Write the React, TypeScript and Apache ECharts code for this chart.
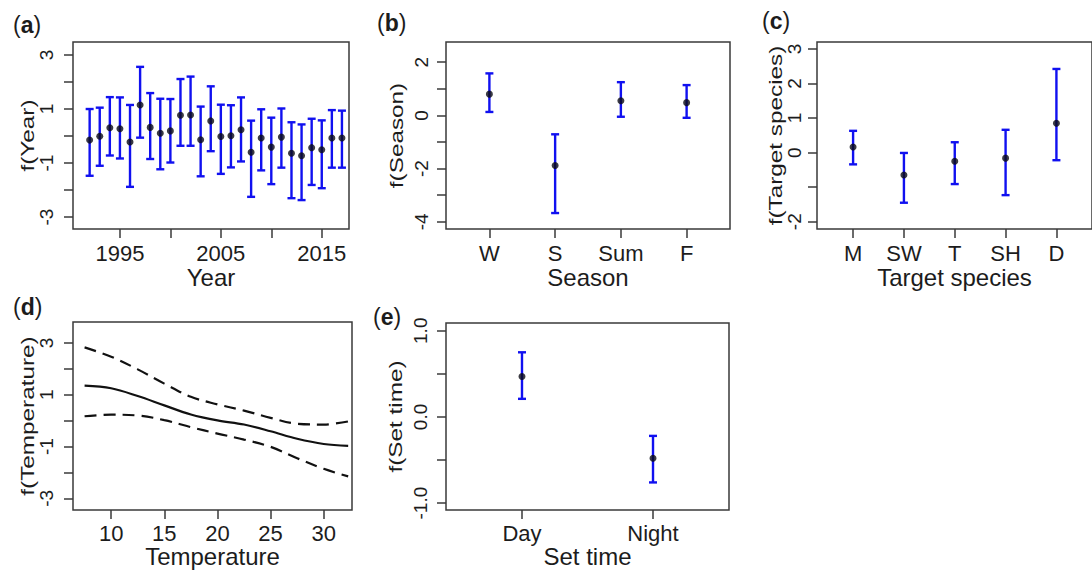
import React, { useEffect, useRef } from "react";
import * as echarts from "echarts";

// ---------- data ----------
const years = [1992, 1993, 1994, 1995, 1996, 1997, 1998, 1999, 2000, 2001, 2002, 2003, 2004, 2005, 2006, 2007, 2008, 2009, 2010, 2011, 2012, 2013, 2014, 2015, 2016, 2017];
const yearFit = [-0.15, -0.01, 0.31, 0.27, -0.22, 1.15, 0.32, 0.1, 0.19, 0.77, 0.78, -0.14, 0.56, -0.02, 0.01, 0.23, -0.6, -0.07, -0.41, -0.04, -0.64, -0.73, -0.43, -0.51, -0.07, -0.07];
const yearUpper = [1.0, 1.05, 1.44, 1.43, 1.15, 2.56, 1.59, 1.38, 1.37, 2.11, 2.2, 1.09, 1.84, 1.16, 1.14, 1.43, 0.57, 0.99, 0.68, 1.02, 0.51, 0.43, 0.64, 0.58, 0.96, 0.94];
const yearLower = [-1.47, -1.1, -0.72, -0.83, -1.88, -0.06, -0.85, -1.23, -0.98, -0.36, -0.36, -1.49, -0.56, -1.4, -1.16, -0.94, -2.25, -1.27, -1.78, -1.17, -2.3, -2.37, -1.81, -1.93, -1.17, -1.17];
const yearTicks = [1995, 2000, 2005, 2010, 2015];
const yearLabels = [1995, 2005, 2015];
const yearYTicks = [-3, -2, -1, 0, 1, 2, 3];
const yearYLabels = [-3, -1, 1, 3];

const seasons = ["W", "S", "Sum", "F"];
const seasonFit = [0.8, -1.88, 0.55, 0.48];
const seasonUpper = [1.58, -0.71, 1.25, 1.14];
const seasonLower = [0.13, -3.67, -0.05, -0.09];
const seasonYTicks = [-4, -3, -2, -1, 0, 1, 2];
const seasonYLabels = [-4, -2, 0, 2];

const species = ["M", "SW", "T", "SH", "D"];
const speciesFit = [0.16, -0.65, -0.25, -0.16, 0.85];
const speciesUpper = [0.63, -0.01, 0.3, 0.66, 2.42];
const speciesLower = [-0.34, -1.45, -0.91, -1.23, -0.22];
const speciesYTicks = [-2, -1, 0, 1, 2, 3];
const speciesYLabels = [-2, 0, 1, 2, 3];

const temperature = [7.5, 10, 12.5, 15, 17.5, 20, 22.5, 25, 27.5, 30, 32.3];
const tempFit = [1.35, 1.25, 0.95, 0.59, 0.24, 0.01, -0.15, -0.41, -0.7, -0.9, -0.97];
const tempUpper = [2.83, 2.47, 1.98, 1.43, 0.92, 0.63, 0.39, 0.11, -0.12, -0.15, -0.03];
const tempLower = [0.17, 0.23, 0.2, 0.02, -0.25, -0.5, -0.73, -1.01, -1.45, -1.86, -2.15];
const tempTicks = [10, 15, 20, 25, 30];
const tempYTicks = [-3, -2, -1, 0, 1, 2, 3];
const tempYLabels = [-3, -1, 1, 3];

const setTimes = ["Day", "Night"];
const setFit = [0.47, -0.48];
const setUpper = [0.75, -0.22];
const setLower = [0.21, -0.76];
const setYTicks = [-1, -0.5, 0, 0.5, 1];
const setYLabels = [-1, 0, 1];

// ---------- styles ----------
const FONT = "'Liberation Sans', Arial, Helvetica, sans-serif";
const TEXT = "#1c1c1c";
const FRAME = "#3a3a3a";
const BLUE = "#1010f0";

const grids = [
  { left: 73, top: 42, width: 276, height: 187 },
  { left: 446, top: 42, width: 284, height: 187 },
  { left: 817, top: 42, width: 284, height: 187 },
  { left: 73, top: 322, width: 279, height: 188 },
  { left: 446, top: 323, width: 283, height: 187 },
];

function xAxis(gi: number, min: number, max: number, ticks: number[], labels: number[], fmt: (v: number) => string, name: string, margin: number, nameGap: number) {
  return {
    type: "value",
    gridIndex: gi,
    position: "bottom",
    min,
    max,
    name,
    nameLocation: "middle",
    nameGap,
    nameTextStyle: { fontFamily: FONT, fontSize: 24, color: TEXT, lineHeight: 24 },
    axisLine: { show: false, onZero: false },
    splitLine: { show: false },
    axisTick: { show: true, inside: false, length: 9, lineStyle: { color: FRAME, width: 1.5 }, customValues: ticks },
    axisLabel: { customValues: labels, formatter: fmt, margin, fontFamily: FONT, fontSize: 22, lineHeight: 22, color: TEXT },
  };
}

function yAxis(gi: number, min: number, max: number, ticks: number[], labels: number[], fmt: (v: number) => string, margin: number) {
  return {
    type: "value",
    gridIndex: gi,
    position: "left",
    min,
    max,
    axisLine: { show: false, onZero: false },
    splitLine: { show: false },
    axisTick: { show: true, inside: false, length: 9, lineStyle: { color: FRAME, width: 1.5 }, customValues: ticks },
    axisLabel: { customValues: labels, formatter: fmt, rotate: 90, margin, fontFamily: FONT, fontSize: 19, lineHeight: 19, color: TEXT },
  };
}

function errorBars(gi: number, xs: number[], lo: number[], hi: number[]) {
  return {
    type: "custom",
    xAxisIndex: gi,
    yAxisIndex: gi,
    silent: true,
    z: 2,
    data: xs.map((x, k) => [x, lo[k], hi[k]]),
    encode: { x: 0, y: [1, 2] },
    renderItem: (_params: any, api: any) => {
      const x = api.value(0);
      const top = api.coord([x, api.value(2)]);
      const bot = api.coord([x, api.value(1)]);
      const cw = 4;
      const style = { stroke: BLUE, lineWidth: 2.4 };
      return {
        type: "group",
        children: [
          { type: "line", shape: { x1: top[0], y1: top[1], x2: bot[0], y2: bot[1] }, style },
          { type: "line", shape: { x1: top[0] - cw, y1: top[1], x2: top[0] + cw, y2: top[1] }, style },
          { type: "line", shape: { x1: bot[0] - cw, y1: bot[1], x2: bot[0] + cw, y2: bot[1] }, style },
        ],
      };
    },
  };
}

function points(gi: number, xs: number[], ys: number[]) {
  return {
    type: "scatter",
    xAxisIndex: gi,
    yAxisIndex: gi,
    silent: true,
    z: 3,
    symbol: "circle",
    symbolSize: 7,
    itemStyle: { color: "#0a0a14" },
    data: xs.map((x, k) => [x, ys[k]]),
  };
}

function curve(gi: number, xs: number[], ys: number[], dashed: boolean) {
  return {
    type: "line",
    xAxisIndex: gi,
    yAxisIndex: gi,
    silent: true,
    showSymbol: false,
    smooth: 0.35,
    lineStyle: { color: "#111111", width: 2.2, type: dashed ? [12, 7] : "solid" },
    data: xs.map((x, k) => [x, ys[k]]),
  };
}

const idx = (arr: any[]) => arr.map((_, k) => k + 1);
const num = (v: number) => String(v);
const fix1 = (v: number) => v.toFixed(1);

function panelLabel(letter: string, x: number, y: number) {
  return {
    type: "text",
    x,
    y,
    style: {
      text: `{p|(}{b|${letter}}{p|)}`,
      verticalAlign: "middle",
      align: "left",
      rich: {
        p: { fontFamily: FONT, fontSize: 23, fill: TEXT, color: TEXT },
        b: { fontFamily: FONT, fontSize: 23, fontWeight: "bold", fill: TEXT, color: TEXT },
      },
    },
  };
}

function yName(text: string, x: number, y: number) {
  return {
    type: "text",
    x,
    y,
    rotation: Math.PI / 2,
    scaleX: 1.35,
    style: {
      text,
      fontFamily: FONT,
      fontSize: 18,
      fill: TEXT,
      align: "center",
      verticalAlign: "middle",
    },
  };
}

export default function App() {
  const ref = useRef<HTMLDivElement>(null);
  useEffect(() => {
    if (!ref.current) return;
    const chart = echarts.init(ref.current, null, { renderer: "svg" });
    const seasonX = idx(seasons);
    const speciesX = idx(species);
    const setX = idx(setTimes);
    chart.setOption({
      animation: false,
      backgroundColor: "#ffffff",
      grid: grids.map((g) => ({ ...g, show: true, borderColor: FRAME, borderWidth: 1.5, backgroundColor: "transparent", containLabel: false })),
      xAxis: [
        xAxis(0, 1990.35, 2017.7, yearTicks, yearLabels, num, "Year", 13, 36),
        xAxis(1, 0.34, 4.66, seasonX, seasonX, (v) => seasons[Math.round(v) - 1] ?? "", "Season", 13, 36),
        xAxis(2, 0.29, 5.7, speciesX, speciesX, (v) => species[Math.round(v) - 1] ?? "", "Target species", 13, 36),
        xAxis(3, 6.41, 32.66, tempTicks, tempTicks, num, "Temperature", 12, 34),
        xAxis(4, 0.42, 2.58, setX, setX, (v) => setTimes[Math.round(v) - 1] ?? "", "Set time", 12, 34),
      ],
      yAxis: [
        yAxis(0, -3.44, 3.48, yearYTicks, yearYLabels, num, 17),
        yAxis(1, -4.27, 2.76, seasonYTicks, seasonYLabels, num, 15),
        yAxis(2, -2.21, 3.2, speciesYTicks, speciesYLabels, num, 13),
        yAxis(3, -3.45, 3.81, tempYTicks, tempYLabels, num, 17),
        yAxis(4, -1.08, 1.09, setYTicks, setYLabels, fix1, 16),
      ],
      series: [
        errorBars(0, years, yearLower, yearUpper),
        points(0, years, yearFit),
        errorBars(1, seasonX, seasonLower, seasonUpper),
        points(1, seasonX, seasonFit),
        errorBars(2, speciesX, speciesLower, speciesUpper),
        points(2, speciesX, speciesFit),
        curve(3, temperature, tempUpper, true),
        curve(3, temperature, tempLower, true),
        curve(3, temperature, tempFit, false),
        errorBars(4, setX, setLower, setUpper),
        points(4, setX, setFit),
      ],
      graphic: [
        panelLabel("a", 13, 25),
        panelLabel("b", 377, 23),
        panelLabel("c", 762, 21),
        panelLabel("d", 13, 307),
        panelLabel("e", 373, 317),
        yName("f(Year)", 28, 135.5),
        yName("f(Season)", 397, 135.5),
        yName("f(Target species)", 776, 135.5),
        yName("f(Temperature)", 28, 416),
        yName("f(Set time)", 396, 416.5),
      ],
    });
    return () => chart.dispose();
  }, []);
  return (
    <div
      ref={ref}
      style={{ position: "fixed", left: 0, top: 0, width: 1092, height: 571, background: "#ffffff", overflow: "hidden" }}
    />
  );
}
